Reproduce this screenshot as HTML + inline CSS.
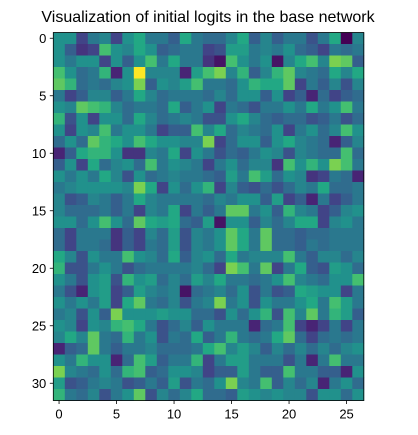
<!DOCTYPE html>
<html><head><meta charset="utf-8"><style>
html,body{margin:0;padding:0;background:#fff;}
svg{display:block;font-family:"Liberation Sans","DejaVu Sans",sans-serif;}
</style></head><body>
<svg id="chart" width="418" height="435" viewBox="0 0 418 435" xmlns="http://www.w3.org/2000/svg">
<text x="208" y="22" text-anchor="middle" font-size="16" fill="#000">Visualization of initial logits in the base network</text>
<g id="cells"></g>
<g id="axes"></g>
</svg>
<script>
const xTicks = [0,5,10,15,20,25];
const yTicks = [0,5,10,15,20,25,30];
const values = [
[5,5,2,4,4.5,2,5,6,4,4,3,6,4,3.5,3.5,4.5,6,3,4.5,3,4,4,2.5,4,6,0,4.5],
[5,3,1.5,2,7,5,4.5,6,5,3,3.5,4,4,2,2.5,5.5,5.5,4,4.5,4,5,3.5,3,2,4,3.5,4],
[5,4,5,5,2,5,3,5,7,4,6,4,4,1.5,0.5,7,5,4,5,0.5,4.5,6,7,4.5,8,7.5,3],
[7,5,3.5,4,6.5,1,5,10,4.5,4.5,4.5,1,5.5,7,8,4.5,6.5,3,4.5,6.5,7.5,4.5,4,3.5,6,4.5,6],
[7.5,6.5,3.5,4,3.5,4.5,5,8,3,5,4.5,5.5,7,4,4,3.5,5,6.5,6,6,7.5,2,4,3,4.5,2.5,4.5],
[4,2,3,4.5,4.5,3,4,6,4.5,3.5,4,4,4,3.5,4.5,3.5,5,5,3,5,2,3,1,3.5,2,3,3.5],
[5,4.5,7.5,7,6.5,4.5,3.5,4,4,3.5,6,3,4,5,2,4,3.5,2.5,4,4,5,4,6,4,5,7,4],
[6.5,2.5,5,2,5,5,3.5,6,4.5,3.5,4,4.5,4,2.5,2.5,5,6,4.5,3.5,3,3.5,3.5,2.5,3,4,2.5,3.5],
[5,2,5,4.5,7,4,5,5,4,2,3,3,7,4.5,6,3.5,4.5,4,3.5,5,2,4,5,3.5,4.5,7,5],
[3.5,5,3.5,7.5,6.5,6,5,7,6,5,5,4.5,4.5,8,2,3.5,5,5,3,5,6,4.5,4,3.5,1,3,4.5],
[1,3,6,6.5,6.5,5,1.5,1.5,4.5,4,6,2,5,4,2.5,3.5,3,4,5,4.5,2.5,4.5,4,3.5,3.5,7,3.5],
[3,5,2,6,3.5,4.5,5,3.5,7,4,5,4.5,4,2,4,5,3.5,4.5,4.5,1.5,7,5,6.5,5,8,7,4],
[5,4,5,4,6,4.5,2.5,5,3.5,4,4.5,4,4,3.5,3,5.5,4,7,5.5,3.5,5,4.5,1.5,2,4,3.5,1],
[4,4.5,5,5,5,5,4.5,8,6,2,5,3.5,5,6.5,2,4.5,3,2.5,3.5,2.5,3.5,4.5,4,6,3.5,3.5,4],
[4.5,2.5,3,4.5,4,3,4,6,4.5,4,4,4,4,3.5,4.5,4,5,5,3,5.5,2,3,1,4,2,3,4],
[4.5,3.5,3.5,3.5,4,3,4,2,4.5,4,6,2,4,3,4,7.5,7.5,4,5,3,6.5,4.5,4,2,3,4.5,5],
[5,5,3.5,5,7,5,3.5,7.5,6,5.5,6,3.5,3,5.5,0.5,5,5,3,4.5,3.5,4.5,6,6,2,4.5,5,4],
[3.5,2,4,4,4,1.5,3,2,4.5,3.5,5.5,2.5,4.5,4,5,7.5,6,4,7.5,3.5,3.5,3,3.5,3.5,4,4,4],
[3.5,2,4,4,3.5,1.5,3,2,4,3.5,5.5,2.5,4.5,4,5,7.5,6,4,7.5,3.5,3.5,3,4,3.5,4,4,4],
[6,4.5,2.5,5,4,4,7,5,4.5,3.5,6,3,4.5,5,3.5,6,4,4.5,4.5,4.5,7,4,3,4.5,4.5,3.5,4.5],
[6.5,2.5,2.5,4,5,4,2.5,3.5,4,4,4,4,4.5,3.5,2,8,7,4,7.5,2,4,6,3,2.5,5.5,5,3.5],
[5,4,2.5,5,5.5,2.5,6.5,5,5.5,3.5,4.5,3.5,5.5,4.5,6,4,4,3.5,4,5,7,4.5,4,3.5,5,5,7],
[4,2.5,1,5,5.5,2,3,5.5,4.5,4,4.5,0.5,3.5,4,4.5,3.5,5,2.5,4,2.5,3,6,5.5,5,5,2,4],
[5,4,5,4,5.5,2,6,7.5,4,3.5,4.5,2.5,4,4.5,8,4,5,2.5,5,4,4,5,6,4,7,5.5,4],
[4,4.5,2.5,5,3,8,5,5,5,5.5,5,5,3.5,3.5,2.5,5,3.5,5,6.5,2.5,7,4.5,7.5,4,6.5,5.5,3],
[5,4.5,2,5,4.5,6.5,7,6,4,2.5,3.5,4.5,3,5,4,4,4,1,3.5,4,7,2,1,2,4,2,4],
[4.5,6,4.5,7.5,4,3.5,6.5,4,5,2.5,4,3.5,6,3,4,6.5,4,3.5,4,6,7.5,3.5,2,3.5,4,3.5,4],
[1,3,3.5,7.5,4,3,4,4,4.5,3.5,3.5,3.5,4,6,7,4.5,5.5,4.5,3,4.5,3.5,4.5,3.5,4.5,3.5,4.5,5],
[5,4,6.5,5,5,1,3.5,7,5.5,3,4,4,6.5,2,4,5.5,5.5,4,4,4,2.5,4,1,4,7,4,4],
[8,4.5,4,3.5,5,3.5,6.5,7,3,3.5,5,5,4.5,2,3,3,5.5,4,3,3,7,4,4,3,3,1,5],
[5.5,2.5,3,4,4.5,4,2.5,3,4,3,5.5,2.5,4,3.5,5,8,4.5,4,7,3,4.5,3.5,4.5,1,4,5,3.5],
[6.5,4,3.5,4.5,2.5,4,5,7.5,2.5,4.5,3.5,4.5,6,3.5,3.5,3,5.5,5,4.5,5,4.5,4.5,2.5,5,5,3.5,5]
];
const vmin = 0, vmax = 10;
const viridis = ["#440154","#482475","#414487","#355f8d","#2a788e","#21918c","#22a884","#44bf70","#7ad151","#bddf26","#fde725"];
function hex(h){return [1,3,5].map(i=>parseInt(h.substr(i,2),16));}
function color(v){
  let t=(v-vmin)/(vmax-vmin); t=Math.max(0,Math.min(1,t));
  const p=t*(viridis.length-1), i=Math.min(Math.floor(p),viridis.length-2), f=p-i;
  const a=hex(viridis[i]), b=hex(viridis[i+1]);
  return "rgb("+a.map((c,k)=>Math.round(c+(b[k]-c)*f)).join(",")+")";
}
const NS="http://www.w3.org/2000/svg";
const plotLeft=53.3, plotTop=32.5, cell=11.5;
const nRows=values.length, nCols=values[0].length;
const xPos=c=>plotLeft+c*cell, yPos=r=>plotTop+r*cell;
const gC=document.getElementById('cells');
values.forEach((row,r)=>row.forEach((v,c)=>{
  const el=document.createElementNS(NS,'rect');
  el.setAttribute('x',xPos(c)); el.setAttribute('y',yPos(r));
  el.setAttribute('width',cell+0.4); el.setAttribute('height',cell+0.4);
  el.setAttribute('fill',color(v));
  
  
  gC.appendChild(el);
}));
const gA=document.getElementById('axes');
const W=nCols*cell, H=nRows*cell;
const frame=document.createElementNS(NS,'rect');
frame.setAttribute('x',plotLeft); frame.setAttribute('y',plotTop); frame.setAttribute('width',W); frame.setAttribute('height',H);
frame.setAttribute('fill','none'); frame.setAttribute('stroke','#000'); frame.setAttribute('stroke-width','0.8');


gA.appendChild(frame);
xTicks.forEach(t=>{
  const x=xPos(t)+cell/2;
  const l=document.createElementNS(NS,'line');
  l.setAttribute('x1',x);l.setAttribute('x2',x);l.setAttribute('y1',plotTop+H);l.setAttribute('y2',plotTop+H+3.5);
  l.setAttribute('stroke','#000');l.setAttribute('stroke-width','0.8');
  
  
  gA.appendChild(l);
  const tx=document.createElementNS(NS,'text');
  tx.setAttribute('x',x);tx.setAttribute('y',plotTop+H+18);tx.setAttribute('text-anchor','middle');tx.setAttribute('font-size','13');
  tx.textContent=t;
  
  
  gA.appendChild(tx);
});
yTicks.forEach(t=>{
  const y=yPos(t)+cell/2;
  const l=document.createElementNS(NS,'line');
  l.setAttribute('x1',plotLeft-3.5);l.setAttribute('x2',plotLeft);l.setAttribute('y1',y);l.setAttribute('y2',y);
  l.setAttribute('stroke','#000');l.setAttribute('stroke-width','0.8');
  
  
  gA.appendChild(l);
  const tx=document.createElementNS(NS,'text');
  tx.setAttribute('x',plotLeft-7);tx.setAttribute('y',y+4.5);tx.setAttribute('text-anchor','end');tx.setAttribute('font-size','13');
  tx.textContent=t;
  
  
  gA.appendChild(tx);
});
</script>
</body></html>
